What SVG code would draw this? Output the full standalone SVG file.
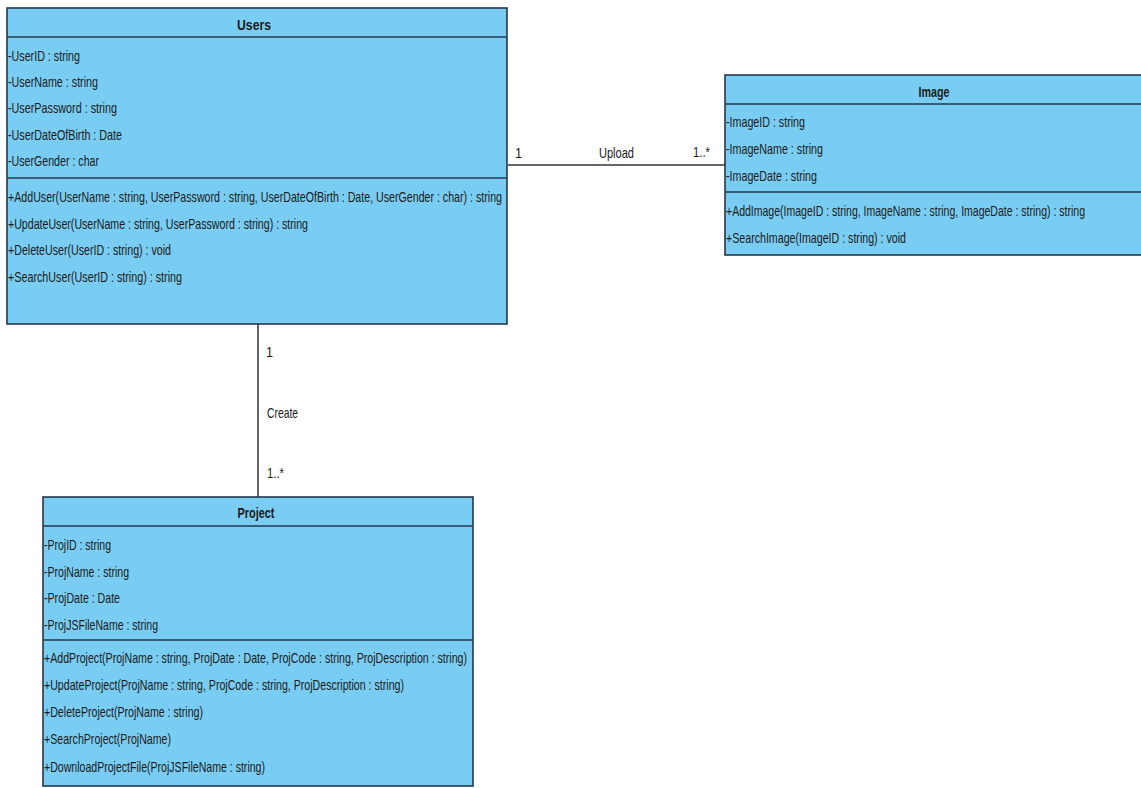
<svg xmlns="http://www.w3.org/2000/svg" width="1141" height="788" viewBox="0 0 1141 788">
<style>
.box{fill:#7acdf2;stroke:#23374c;stroke-width:1.6}
.div{stroke:#23374c;stroke-width:1.6}
.t{font-family:"Liberation Sans",Arial,sans-serif;font-size:15px;fill:#1a1a1a}
.h{font-family:"Liberation Sans",Arial,sans-serif;font-size:15px;font-weight:bold;fill:#1a1a1a;text-anchor:middle}
.c{stroke:#333;stroke-width:1.5;fill:none}
</style>
<rect width="1141" height="788" fill="#ffffff"/>
<g id="connectors">
<line class="c" x1="508" y1="165" x2="725" y2="165"/>
<line class="c" x1="258" y1="324" x2="258" y2="497"/>
<text class="t" x="515" y="158" textLength="7" lengthAdjust="spacingAndGlyphs">1</text>
<text class="t" x="599" y="158" textLength="35" lengthAdjust="spacingAndGlyphs">Upload</text>
<text class="t" x="693" y="157" textLength="17" lengthAdjust="spacingAndGlyphs">1..*</text>
<text class="t" x="266" y="357" textLength="7" lengthAdjust="spacingAndGlyphs">1</text>
<text class="t" x="267" y="418" textLength="31" lengthAdjust="spacingAndGlyphs">Create</text>
<text class="t" x="267" y="478" textLength="17" lengthAdjust="spacingAndGlyphs">1..*</text>
</g>
<g id="Users">
<rect class="box" x="7" y="8" width="500" height="316"/>
<line class="div" x1="7" y1="37" x2="507" y2="37"/>
<line class="div" x1="7" y1="178" x2="507" y2="178"/>
<text class="h" x="254" y="30" textLength="34" lengthAdjust="spacingAndGlyphs">Users</text>
<text class="t" x="8" y="61" textLength="72" lengthAdjust="spacingAndGlyphs">-UserID : string</text>
<text class="t" x="8" y="87" textLength="90" lengthAdjust="spacingAndGlyphs">-UserName : string</text>
<text class="t" x="8" y="113" textLength="109" lengthAdjust="spacingAndGlyphs">-UserPassword : string</text>
<text class="t" x="8" y="140" textLength="114" lengthAdjust="spacingAndGlyphs">-UserDateOfBirth : Date</text>
<text class="t" x="8" y="166" textLength="91" lengthAdjust="spacingAndGlyphs">-UserGender : char</text>
<text class="t" x="8" y="202" textLength="494" lengthAdjust="spacingAndGlyphs">+AddUser(UserName : string, UserPassword : string, UserDateOfBirth : Date, UserGender : char) : string</text>
<text class="t" x="8" y="229" textLength="300" lengthAdjust="spacingAndGlyphs">+UpdateUser(UserName : string, UserPassword : string) : string</text>
<text class="t" x="8" y="255" textLength="163" lengthAdjust="spacingAndGlyphs">+DeleteUser(UserID : string) : void</text>
<text class="t" x="8" y="282" textLength="174" lengthAdjust="spacingAndGlyphs">+SearchUser(UserID : string) : string</text>
</g>
<g id="Image">
<rect class="box" x="725" y="75" width="420" height="180"/>
<line class="div" x1="725" y1="104" x2="1141" y2="104"/>
<line class="div" x1="725" y1="192" x2="1141" y2="192"/>
<text class="h" x="934" y="97" textLength="31" lengthAdjust="spacingAndGlyphs">Image</text>
<text class="t" x="726" y="127" textLength="79" lengthAdjust="spacingAndGlyphs">-ImageID : string</text>
<text class="t" x="726" y="154" textLength="97" lengthAdjust="spacingAndGlyphs">-ImageName : string</text>
<text class="t" x="726" y="181" textLength="91" lengthAdjust="spacingAndGlyphs">-ImageDate : string</text>
<text class="t" x="726" y="216" textLength="359" lengthAdjust="spacingAndGlyphs">+AddImage(ImageID : string, ImageName : string, ImageDate : string) : string</text>
<text class="t" x="726" y="243" textLength="180" lengthAdjust="spacingAndGlyphs">+SearchImage(ImageID : string) : void</text>
</g>
<g id="Project">
<rect class="box" x="43" y="497" width="430" height="289"/>
<line class="div" x1="43" y1="526" x2="473" y2="526"/>
<line class="div" x1="43" y1="640" x2="473" y2="640"/>
<text class="h" x="256" y="518" textLength="37" lengthAdjust="spacingAndGlyphs">Project</text>
<text class="t" x="44" y="550" textLength="67" lengthAdjust="spacingAndGlyphs">-ProjID : string</text>
<text class="t" x="44" y="577" textLength="85" lengthAdjust="spacingAndGlyphs">-ProjName : string</text>
<text class="t" x="44" y="603" textLength="76" lengthAdjust="spacingAndGlyphs">-ProjDate : Date</text>
<text class="t" x="44" y="630" textLength="114" lengthAdjust="spacingAndGlyphs">-ProjJSFileName : string</text>
<text class="t" x="44" y="663" textLength="423" lengthAdjust="spacingAndGlyphs">+AddProject(ProjName : string, ProjDate : Date, ProjCode : string, ProjDescription : string)</text>
<text class="t" x="44" y="690" textLength="360" lengthAdjust="spacingAndGlyphs">+UpdateProject(ProjName : string, ProjCode : string, ProjDescription : string)</text>
<text class="t" x="44" y="717" textLength="159" lengthAdjust="spacingAndGlyphs">+DeleteProject(ProjName : string)</text>
<text class="t" x="44" y="744" textLength="127" lengthAdjust="spacingAndGlyphs">+SearchProject(ProjName)</text>
<text class="t" x="44" y="772" textLength="221" lengthAdjust="spacingAndGlyphs">+DownloadProjectFile(ProjJSFileName : string)</text>
</g>
</svg>
